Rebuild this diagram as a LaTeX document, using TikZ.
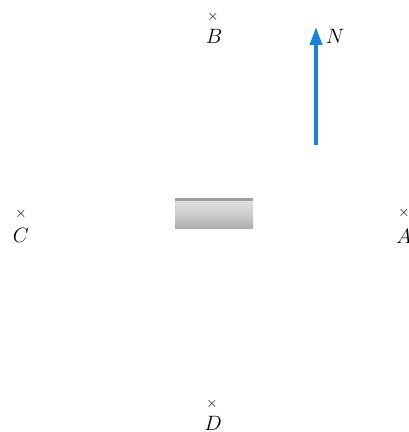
\documentclass[tikz,border=0pt]{standalone}
\usetikzlibrary{arrows.meta}
\definecolor{fieldblue}{RGB}{24,132,212}
\begin{document}
\begin{tikzpicture}[x=1pt,y=1pt,
  crossmark/.style={inner sep=0pt,font=\fontsize{15}{15}\selectfont},
  lbl/.style={inner sep=0pt,font=\fontsize{20}{24}\selectfont}]
\useasboundingbox (0,0) rectangle (408,432);
\clip (0,0) rectangle (408,432);
% points
\node[crossmark] (xB) at (213,415) {$\times$};
\node[lbl]  (B)  at (214,396) {$B$};
\node[crossmark] (xC) at (21,218) {$\times$};
\node[lbl]  (C)  at (21,197) {$C$};
\node[crossmark] (xA) at (404,219) {$\times$};
\node[lbl]  (A)  at (404,196) {$A$};
\node[crossmark] (xD) at (212,28) {$\times$};
\node[lbl]  (D)  at (213,9) {$D$};
% bar magnet / rod
\shade[top color=gray!25,bottom color=gray!65,middle color=gray!40] (175,203) rectangle (253,232);
\fill[gray!75] (175,231) rectangle (253,234);
\coordinate (barc) at (214,218);
% field arrow
\coordinate (tail) at (316,287);
\coordinate (tip) at (316,405);
\draw[fieldblue,line width=3.6pt,-{Triangle[length=18pt,width=12pt]}] (tail) -- (tip);
\node[lbl] (N) at (335,396) {$N$};
\end{tikzpicture}
\end{document}
